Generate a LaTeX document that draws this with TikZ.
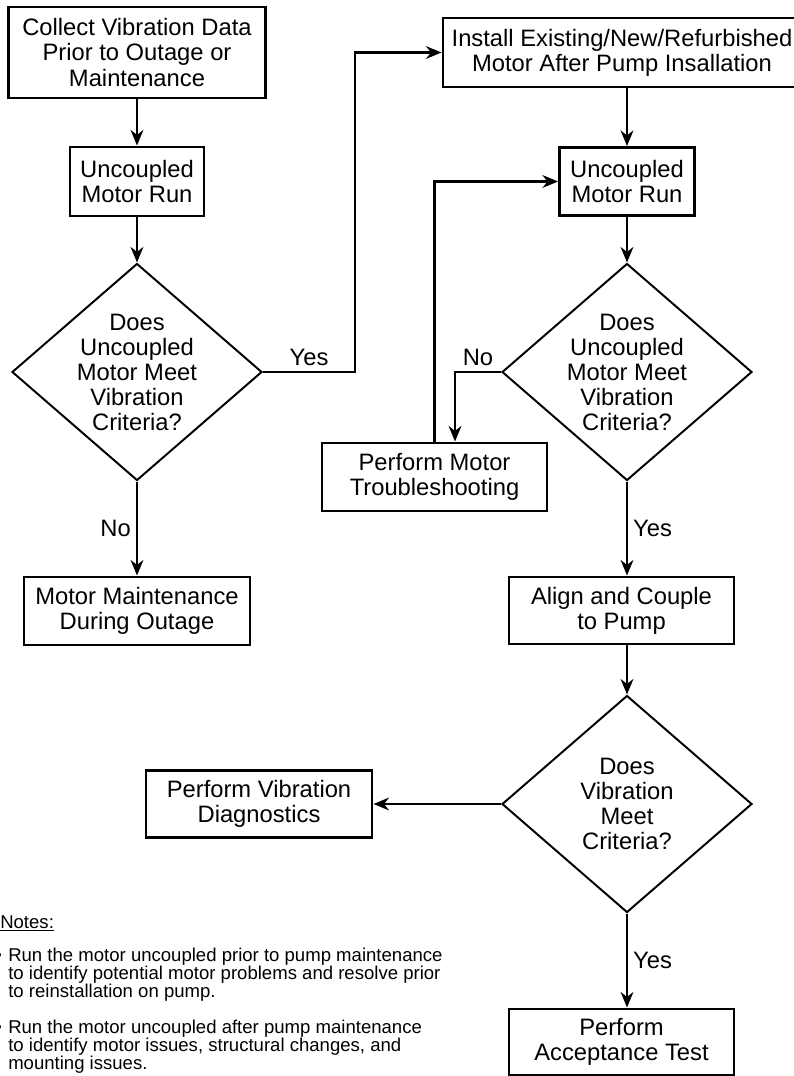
\documentclass[tikz,border=0pt]{standalone}
\usepackage{fontspec}
\setmainfont{Liberation Sans}
\usepackage{tikz}
\usetikzlibrary{arrows.meta,shapes.geometric}

\newcommand{\boxfont}{\fontsize{16.9pt}{17.8pt}\selectfont}
\newcommand{\notefont}{\fontsize{13.2pt}{12.8pt}\selectfont}

\begin{document}
\begin{tikzpicture}[font=\boxfont, >={Stealth[length=11pt,width=9pt,inset=3.5pt]},
    block/.style={rectangle, draw, line width=2.1pt, minimum height=1.7cm,
                  minimum width=5.625cm, align=center, inner sep=0pt},
    decision/.style={diamond, draw, line width=1.4pt, minimum width=6.25cm,
                     minimum height=5.425cm, inner sep=0pt},
    dtext/.style={align=center, inner sep=0pt},
    note/.style={align=left, inner sep=0pt, font=\notefont, anchor=north west},
    arrow/.style={->, line width=2.1pt}]
    \useasboundingbox (0,0) rectangle (19.825,-26.9);

    % first run, before the outage
    \node[block, minimum width=6.425cm, minimum height=2.275cm] (collect) at (3.425,-1.3125)
        {Collect Vibration Data\\Prior to Outage or\\Maintenance};
    \node[block, below of=collect, node distance=3.225cm, minimum width=3.35cm, minimum height=1.725cm] (run1)
        {Uncoupled\\Motor Run};
    \node[decision, below of=run1, node distance=4.7625cm] (dec1) {};
    \node[dtext] (dec1t) at (dec1) {Does\\Uncoupled\\Motor Meet\\Vibration\\Criteria?};
    \node[block, below of=dec1, node distance=5.975cm, minimum width=5.65cm] (maint)
        {Motor Maintenance\\During Outage};

    % second run, after pump maintenance
    \node[block, right of=collect, node distance=12.125cm, minimum width=8.95cm, minimum height=1.725cm] (install)
        {Install Existing/New/Refurbished\\Motor After Pump Insallation};
    \node[block, right of=run1, node distance=12.25cm, minimum width=3.375cm] (run2)
        {Uncoupled\\Motor Run};
    \node[decision, below of=run2, node distance=4.7625cm] (dec2) {};
    \node[dtext] (dec2t) at (dec2) {Does\\Uncoupled\\Motor Meet\\Vibration\\Criteria?};
    \node[block, left of=dec2, node distance=4.8125cm, yshift=-2.625cm] (trouble)
        {Perform Motor\\Troubleshooting};
    \node[block, below of=dec2, node distance=5.9625cm, xshift=-0.1375cm, minimum height=1.675cm] (align)
        {Align and Couple\\to Pump};
    \node[decision, below of=dec2, node distance=10.8cm] (dec3) {};
    \node[dtext] (dec3t) at (dec3) {Does\\Vibration\\Meet\\Criteria?};
    \node[block, left of=dec3, node distance=9.2cm, minimum width=5.65cm, minimum height=1.675cm] (diag)
        {Perform Vibration\\Diagnostics};
    \node[block, below of=dec3, node distance=5.95cm, xshift=-0.1375cm, minimum height=1.65cm] (accept)
        {Perform\\Acceptance Test};

    % notes
    \node[note] (notes) at (0,-22.875) {\underline{Notes:}};
    \node[note] (note1) at (0.2,-23.7) {\llap{\textbullet\hspace{4.6pt}}Run the motor uncoupled prior to pump maintenance\\
        to identify potential motor problems and resolve prior\\to reinstallation on pump.};
    \node[note] (note2) at (0.2,-25.5) {\llap{\textbullet\hspace{4.6pt}}Run the motor uncoupled after pump maintenance\\
        to identify motor issues, structural changes, and\\mounting issues.};

    \draw[arrow] (collect) -- (run1);
    \draw[arrow] (run1) -- (dec1);
    \draw[arrow] (dec1) -- node[left] {No} (maint);
    \draw[arrow] (dec1.east) -- node[above] {Yes} ++(2.3,0) |- (install.west);
    \draw[arrow] (install.south -| run2) -- (run2);
    \draw[arrow] (run2) -- (dec2);
    \draw[arrow] (dec2.west) -| node[pos=0.25, above] {No} ([xshift=0.5125cm]trouble.north);
    \draw[arrow] (trouble.north) |- (run2.west);
    \draw[arrow] (dec2) -- node[right] {Yes} (dec2.south |- align.north);
    \draw[arrow] (align.south -| dec3) -- (dec3);
    \draw[arrow] (dec3.west) -- (diag);
    \draw[arrow] (dec3) -- node[right] {Yes} (dec3.south |- accept.north);
\end{tikzpicture}
\end{document}
